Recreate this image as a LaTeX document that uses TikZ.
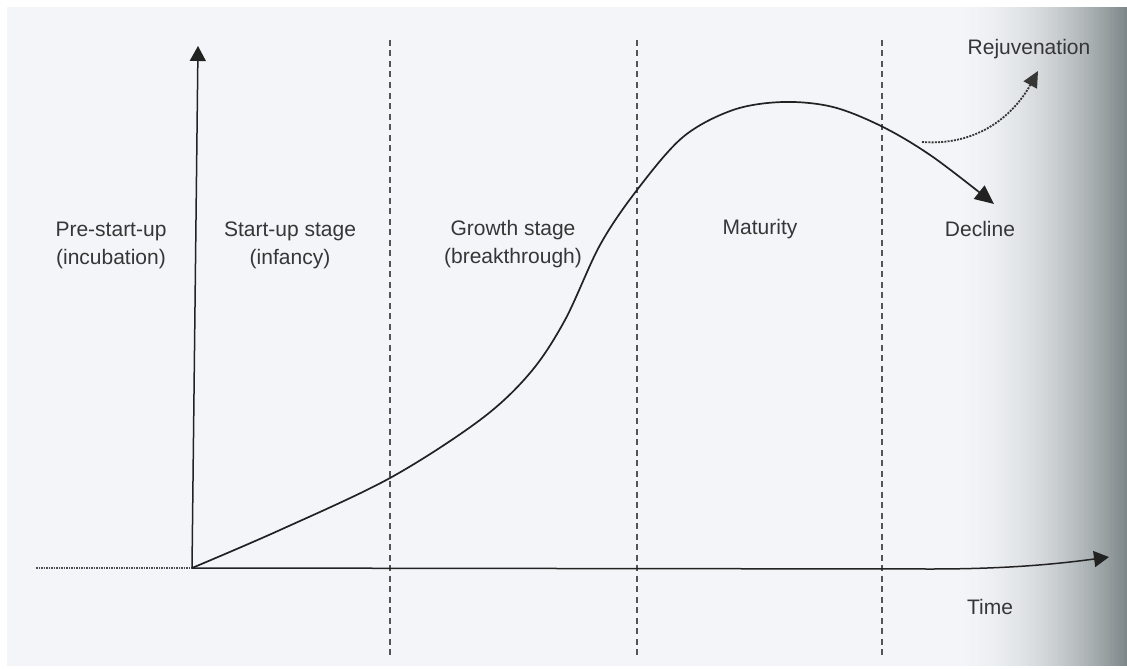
\documentclass[tikz,border=0pt]{standalone}
\usepackage{fontspec}
\setmainfont{Liberation Sans}
\usetikzlibrary{arrows.meta}
\definecolor{bg}{HTML}{F3F5F8}
\definecolor{ink}{HTML}{222222}
\definecolor{txt}{HTML}{363636}
\definecolor{edge}{HTML}{7A8486}
\tikzset{
  lbl/.style={text=txt, font=\fontsize{21}{28}\selectfont, align=center, inner sep=0pt},
  axis/.style={draw=ink, line width=1.5pt, -{Triangle[length=15pt,width=16pt]}},
  curve/.style={draw=ink, line width=1.7pt, -{Triangle[length=19pt,width=17pt]}},
  divider/.style={draw=txt!85, line width=1.2pt, dash pattern=on 6pt off 4.5pt},
  rejuv/.style={draw=txt, line width=1.8pt, dash pattern=on 2pt off 1.2pt, -{Triangle[length=16pt,width=15pt]}},
}
\begin{document}
\begin{tikzpicture}[x=1pt,y=-1pt]
\useasboundingbox (0,0) rectangle (1127,669);
\fill[white] (0,0) rectangle (1127,669);
\fill[bg] (7,7) rectangle (1127,666);
% darkening toward the right edge (scan shadow)
\foreach \i in {0,...,71} {
  \pgfmathsetmacro{\xa}{950+\i*2.5}
  \pgfmathsetmacro{\xb}{\xa+2.6}
  \pgfmathsetmacro{\p}{100*(\i/71)^2.0}
  \fill[edge!\p!bg] (\xa,7) rectangle (\xb,666);
}
% coordinates
\coordinate (O) at (192,568);
\coordinate (ytip) at (198,46);
\coordinate (xtip) at (1109,557);
\coordinate (xmid) at (930,569);
\coordinate (dotstart) at (36,568);
% dividers
\coordinate (d1t) at (390,40); \coordinate (d1b) at (390,657);
\coordinate (d2t) at (637,40); \coordinate (d2b) at (637,657);
\coordinate (d3t) at (882,40); \coordinate (d3b) at (882,657);
\draw[divider] (d1t) -- (d1b);
\draw[divider] (d2t) -- (d2b);
\draw[divider] (d3t) -- (d3b);
% axes
\draw[draw=ink!80, line width=1.3pt, dash pattern=on 1.5pt off 1pt] (dotstart) -- (O);
\draw[axis] (O) -- (ytip);
\draw[axis] (O) -- (xmid) .. controls (1000,569) and (1050,565) .. (xtip);
% main curve
\draw[curve] plot[smooth, tension=0.55] coordinates {(192,568) (280,530) (390,478) (480,420) (530,373) (565,320) (600,245) (637,190) (683,137) (733,110) (783,102) (833,107) (883,127) (933,157) (994,204)};
% rejuvenation branch
\coordinate (rs) at (922,142);
\coordinate (rt) at (1038,71);
\draw[rejuv] (rs) .. controls (975,146) and (1012,118) .. (rt);
% labels
\node[lbl] (pre) at (111,245) {Pre-start-up\\(incubation)};
\node[lbl] (start) at (290,245) {Start-up stage\\(infancy)};
\node[lbl] (growth) at (513,244) {Growth stage\\(breakthrough)};
\node[lbl] (mat) at (760,229) {Maturity};
\node[lbl] (dec) at (980,229) {Decline};
\node[lbl] (rej) at (1029,49) {Rejuvenation};
\node[lbl] (time) at (990,607) {Time};
\end{tikzpicture}
\end{document}
